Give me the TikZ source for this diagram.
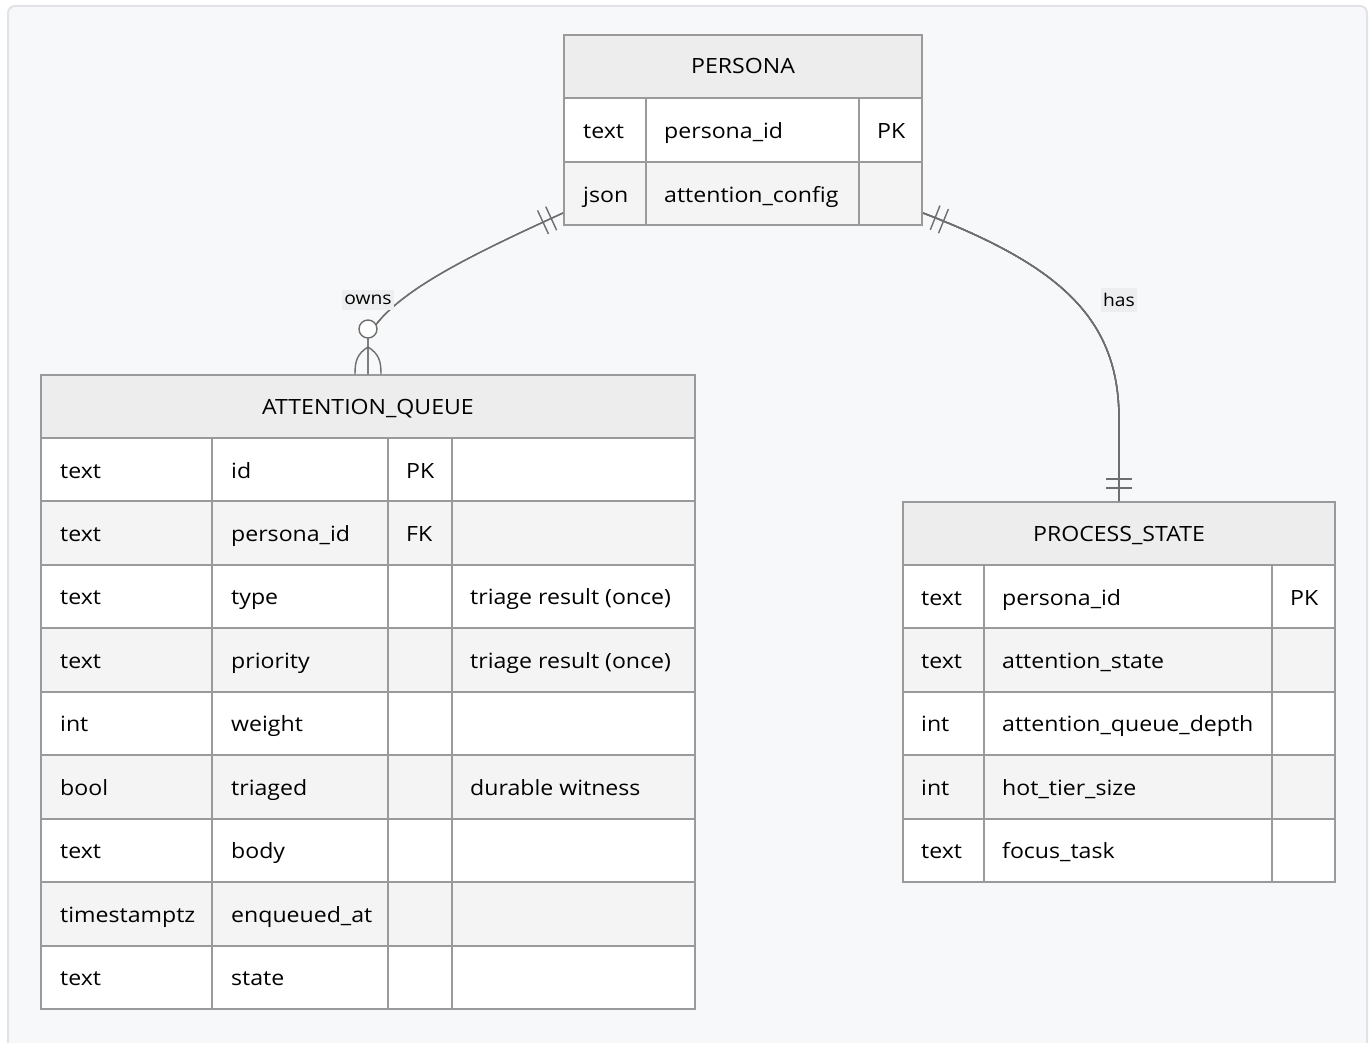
\documentclass[tikz,border=0pt]{standalone}
\usepackage{fontspec}
\setmainfont{Open Sans}[FakeStretch=1.1]
\usetikzlibrary{calc,decorations.markings}
\definecolor{bgfill}{HTML}{F7F8FA}
\definecolor{bgline}{HTML}{E1E3E8}
\definecolor{hdr}{HTML}{EDEDED}
\definecolor{rowg}{HTML}{F4F4F4}
\definecolor{gridc}{HTML}{9A9A9A}
\definecolor{conn}{HTML}{6E6E6E}
\definecolor{lblbg}{HTML}{EDEEF0}
\tikzset{
  tbl/.style={draw=gridc, line width=2pt, inner sep=0pt},
  gridline/.style={draw=gridc, line width=2pt},
  cell/.style={anchor=base west, inner sep=0pt, text=black},
  title/.style={anchor=base, inner sep=0pt, text=black},
  rel/.style={draw=conn, line width=1.4pt},
  bars/.style={postaction={decorate}, decoration={markings,
     mark=at position #1 with {\draw[conn, line width=1.4pt] (0pt,-13pt) -- (0pt,13pt);}}},
  lbl/.style={fill=lblbg, inner xsep=2pt, inner ysep=5pt, text=black, font=\fontsize{17.5}{22}\selectfont}
}
\begin{document}
\begin{tikzpicture}[x=1pt,y=-1pt, font=\fontsize{21}{25}\selectfont]
\useasboundingbox (0,0) rectangle (1372,1043);
\begin{scope}
\clip (0,0) rectangle (1372,1043);
\fill[white] (0,0) rectangle (1372,1043);
\draw[bgline, fill=bgfill, line width=2pt, rounded corners=7pt] (8,6) rectangle (1367,1060);
\end{scope}

% ---------- PERSONA ----------
\fill[hdr] (564,35) rectangle (922,98);
\fill[white] (564,98) rectangle (922,162);
\fill[rowg] (564,162) rectangle (922,225);
\draw[gridline] (564,98) -- (922,98) (564,162) -- (922,162)
  (646,98) -- (646,225) (859,98) -- (859,225);
\node[tbl, minimum width=358, minimum height=190] (persona) at (743,130) {};
\node[title] (personaT) at (743,74) {PERSONA};
\node[cell] (p1a) at (583,138.5) {text};
\node[cell] (p1b) at (664,138.5) {persona\_id};
\node[cell] (p1c) at (877,138.5) {PK};
\node[cell] (p2a) at (583,202) {json};
\node[cell] (p2b) at (664,202) {attention\_config};

% ---------- ATTENTION_QUEUE ----------
\fill[hdr] (41,375) rectangle (695,438);
\fill[white] (41,438) rectangle (695,1009);
\foreach \i in {1,3,5,7} {
  \fill[rowg] (41,438+\i*63.44) rectangle (695,438+\i*63.44+63.44);
}
\foreach \i in {0,...,8} {
  \draw[gridline] (41,438+\i*63.44) -- (695,438+\i*63.44);
}
\draw[gridline] (212,438) -- (212,1009) (388,438) -- (388,1009) (452,438) -- (452,1009);
\node[tbl, minimum width=654, minimum height=634] (queue) at (368,692) {};
\node[title] (queueT) at (368,414) {ATTENTION\_QUEUE};
\foreach \i/\a/\b/\c/\d in {0/text/id/PK/, 1/text/persona\_id/FK/, 2/text/type//triage result (once),
  3/text/priority//triage result (once), 4/int/weight//, 5/bool/triaged//durable witness,
  6/text/body//, 7/timestamptz/enqueued\_at//, 8/text/state//} {
  \node[cell] (q\i a) at (60,438+\i*63.44+40) {\a};
  \node[cell] (q\i b) at (231,438+\i*63.44+40) {\b};
  \node[cell] (q\i c) at (406,438+\i*63.44+40) {\c};
  \node[cell] (q\i d) at (470,438+\i*63.44+40) {\d};
}

% ---------- PROCESS_STATE ----------
\fill[hdr] (903,502) rectangle (1335,565);
\fill[white] (903,565) rectangle (1335,882);
\foreach \i in {1,3} {
  \fill[rowg] (903,565+\i*63.4) rectangle (1335,565+\i*63.4+63.4);
}
\foreach \i in {0,...,4} {
  \draw[gridline] (903,565+\i*63.4) -- (1335,565+\i*63.4);
}
\draw[gridline] (984,565) -- (984,882) (1272,565) -- (1272,882);
\node[tbl, minimum width=432, minimum height=380] (pstate) at (1119,692) {};
\node[title] (pstateT) at (1119,541) {PROCESS\_STATE};
\foreach \i/\a/\b/\c in {0/text/persona\_id/PK, 1/text/attention\_state/, 2/int/attention\_queue\_depth/,
  3/int/hot\_tier\_size/, 4/text/focus\_task/} {
  \node[cell] (s\i a) at (921,565+\i*63.4+40) {\a};
  \node[cell] (s\i b) at (1002,565+\i*63.4+40) {\b};
  \node[cell] (s\i c) at (1290,565+\i*63.4+40) {\c};
}

% ---------- relations ----------
\coordinate (ownsA) at ($(persona.south west)+(0,-13)$);
\coordinate (ownsB) at (queue.north);
\path[rel, bars=13pt] (ownsA) .. controls +(-94,43) and +(22,-43) .. ($(ownsB)+(0,-37)$) -- (ownsB);
\path[rel, bars=22pt] (ownsA) .. controls +(-94,43) and +(22,-43) .. ($(ownsB)+(0,-37)$) -- (ownsB);
% crow's foot zero-or-many
\draw[rel] ($(ownsB)+(0,-27)$) .. controls +(-11,7) and +(0,-13) .. ($(ownsB)+(-13,0)$);
\draw[rel] ($(ownsB)+(0,-27)$) .. controls +(11,7) and +(0,-13) .. ($(ownsB)+(13,0)$);
\draw[rel, fill=white] ($(ownsB)+(0,-45)$) circle (9);
\node[lbl] (ownsL) at (368,300) {owns};

\coordinate (hasA) at ($(persona.south east)+(0,-13)$);
\coordinate (hasB) at (pstate.north);
\path[rel, bars=13pt] (hasA) .. controls +(138,53) and +(0,-100) .. ($(hasB)+(0,-82)$) -- (hasB);
\path[rel, bars=22pt] (hasA) .. controls +(138,53) and +(0,-100) .. ($(hasB)+(0,-82)$) -- (hasB);
\path[rel, bars=-13pt] (hasA) .. controls +(138,53) and +(0,-100) .. ($(hasB)+(0,-82)$) -- (hasB);
\path[rel, bars=-22pt] (hasA) .. controls +(138,53) and +(0,-100) .. ($(hasB)+(0,-82)$) -- (hasB);
\node[lbl] (hasL) at (1119,300) {has};
\end{tikzpicture}
\end{document}
